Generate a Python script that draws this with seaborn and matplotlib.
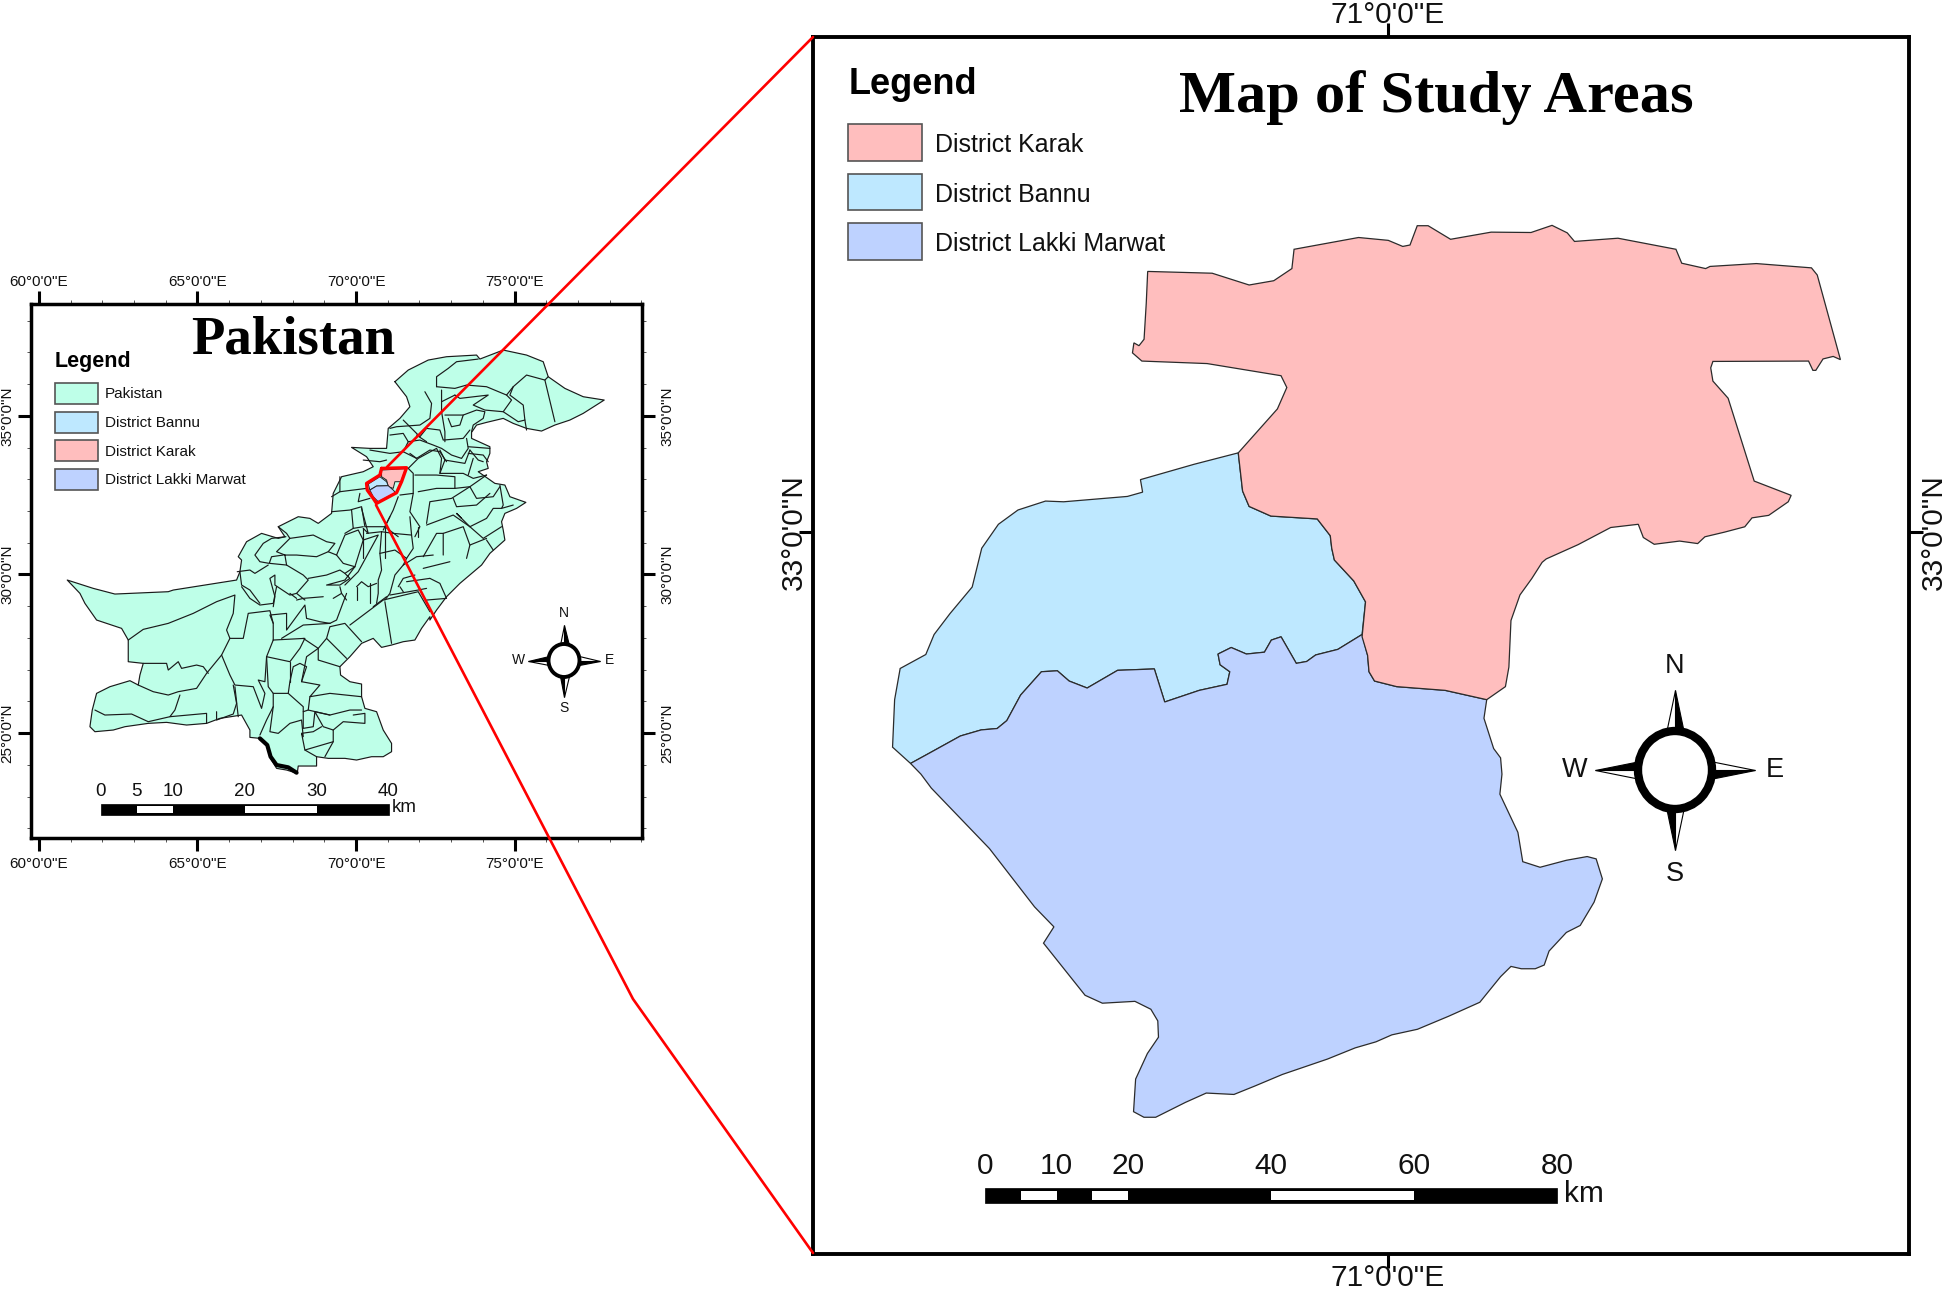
import numpy as np
import pandas as pd
import seaborn as sns
import matplotlib
matplotlib.use("Agg")
import matplotlib.pyplot as plt
from matplotlib.patches import Rectangle, Ellipse, Polygon
from matplotlib.ticker import FixedLocator
from matplotlib.transforms import ScaledTranslation

sns.set_theme(style="white")
plt.rcParams['font.family'] = ['Liberation Sans', 'DejaVu Sans']

W, H = 1946, 1290

# ---------- labels and colours ----------
pak_lon_ticks = [60, 65, 70, 75]
pak_lat_ticks = [25, 30, 35]
pak_lon_labels = ['60°0\'0"E', '65°0\'0"E', '70°0\'0"E', '75°0\'0"E']
pak_lat_labels = ['25°0\'0"N', '30°0\'0"N', '35°0\'0"N']
study_lon_ticks = [71]
study_lat_ticks = [33]
study_lon_labels = ['71°0\'0"E']
study_lat_labels = ['33°0\'0"N']
pak_legend = ["Pakistan", "District Bannu", "District Karak", "District Lakki Marwat"]
study_legend = ["District Karak", "District Bannu", "District Lakki Marwat"]
PAK, BANNU, KARAK, LAKKI = "#BEFFE8", "#BEE8FF", "#FFBEBE", "#BED2FF"
pak_scale_km = [0, 5, 10, 20, 30, 40]
pak_scale_white = [(5, 10), (20, 30)]
study_scale_km = [0, 10, 20, 40, 60, 80]
study_scale_white = [(5, 10), (15, 20), (40, 60)]

# ---------- Pakistan map outlines ----------
outline_g = [(75,110),(115,75),(175,45),(230,35),(320,30),(330,42),(400,15),(470,30),(520,50),(535,95),(585,130),
             (640,155),(703,165),(640,205),(600,225),(555,240),(515,258),(470,250),(430,235),(400,220),(350,232),
             (320,240),(305,262),(305,280),(360,305),(360,325),(350,350)]
outline_a1 = [(775,385),(745,395),(795,430),(825,435),(840,470),(888,487),(860,505),(825,520),(815,545),(820,570),
              (825,600),(780,640),(755,675),(690,730),(650,770),(620,810),(600,840)]
outline_b = [(1110,170),(1085,205),(1065,240),(1030,245),(995,255),(965,262),(940,235),(905,250),(870,290),(840,320),
             (842,345),(870,365),(905,372),(905,410),(915,445),(950,455),(970,510),(995,550),(995,575),(970,590),
             (935,590),(890,600),(855,595),(805,595),(770,590),(770,618),(715,618),(712,640),(680,630),(650,625),
             (635,600),(620,550),(600,535),(570,532),(570,510),(545,465),(480,475),(440,490),(380,495),(320,487),
             (265,490),(195,500),(160,510),(105,515),(90,500),(97,450),(110,400),(150,380),(210,362),(235,375),
             (240,345),(250,310),(205,305),(205,240),(185,205),(110,180),(75,130),(60,100),(22,60),(100,85),
             (165,102),(325,95),(340,90),(530,60),(540,35),(545,0)]
outline_a2 = [(25,650),(50,605),(95,580),(145,595),(165,590),(145,560),(205,530),(240,535),(265,550),(305,520),
              (310,460),(335,410),(400,395),(430,380),(410,350),(365,322),(420,325),(470,325),(475,265),(510,235),
              (540,200),(530,170)]

lines_e = [
 [(168,110),(125,115),(100,130),(75,165),(90,185),(118,190),(125,170),(160,165)],
 [(22,215),(60,210),(75,220),(115,195)],
 [(120,190),(170,195),(220,225),(235,240),(200,280),(180,285),(135,255),(135,225),(120,235),(135,290),(130,320),(90,310),(60,270),(35,255),(30,215)],
 [(170,195),(165,165),(140,155),(180,115),(250,105),(290,125),(315,130),(295,155),(260,170),(200,165),(165,165)],
 [(295,155),(320,165),(340,190),(375,200),(345,220),(330,210),(290,225),(235,235)],
 [(145,80),(170,100),(180,115)],
 [(320,165),(345,105),(385,90),(400,120),(375,200)],
 [(375,200),(345,240),(290,255),(330,255),(360,235),(345,220)],
 [(200,280),(225,300),(310,295),(335,280),(350,300),(325,330),(310,370)],
 [(330,260),(335,280)],
 [(225,300),(230,350),(270,365),(310,370)],
 [(225,310),(185,350),(120,350),(115,390)],
 [(130,320),(135,350)],
 [(135,340),(60,335),(50,390)],
 [(345,255),(385,215),(445,105),(400,120)],
 [(455,95),(450,160),(455,210),(445,240),(445,280),(440,310),(380,340),(350,370)],
 [(380,260),(395,245),(415,260),(440,250)],
 [(380,260),(380,300),(350,350),(340,375)],
 [(410,100),(455,95)],
 [(370,45),(370,85),(400,85),(415,100),(395,25)],
 [(360,30),(395,45)],
 [(450,160),(495,150),(530,175),(520,195),(495,225),(480,280),(465,300)],
 [(455,95),(490,100),(545,105),(550,145),(530,175)],
 [(520,195),(560,170),(610,165)],
 [(505,260),(520,235),(555,225)],
 [(480,285),(565,270),(590,265)],
 [(520,275),(510,260)],
 [(470,10),(480,50),(460,90)],
 [(530,20),(575,75),(610,65)],
 [(540,50),(545,105)],
 [(470,290),(430,320)],
 [(465,295),(475,390)],
]
lines_f = [
 [(100,90),(150,95),(170,90)],
 [(30,140),(30,185),(5,200)],
 [(30,185),(110,175)],
 [(90,190),(85,215),(120,205)],
 [(5,245),(60,240),(95,230),(105,290),(165,290),(190,240),(205,200)],
 [(65,240),(70,295),(100,290)],
 [(210,195),(250,190),(250,130),(235,115)],
 [(250,190),(240,245),(270,290),(255,320),(205,320),(165,290)],
 [(255,135),(320,135),(375,140),(375,175),(420,170),(470,135)],
 [(265,185),(320,175),(375,175)],
 [(290,280),(300,215),(365,205),(420,170),(440,205),(490,200),(510,170)],
 [(290,285),(370,255),(420,290),(460,325),(515,290)],
 [(370,205),(380,230),(440,225),(480,190)],
 [(510,165),(520,225),(515,235),(550,225)],
 [(420,290),(470,265),(490,235),(515,235)],
 [(395,265),(380,250),(420,290)],
 [(265,390),(280,380),(320,310),(340,310),(340,375)],
 [(265,290),(265,320),(245,370),(230,385)],
 [(340,310),(400,290),(420,345),(470,325)],
 [(420,345),(410,385)],
 [(470,330),(490,360)],
 [(100,295),(100,385)],
 [(165,295),(165,385)],
 [(45,310),(70,295)],
 [(45,310),(40,385)],
 [(235,115),(265,85),(320,55),(335,85),(330,130)],
 [(330,60),(345,90),(405,100),(420,60),(400,35),(345,65),(330,60)],
 [(345,90),(330,130),(400,130),(430,145),(470,135)],
 [(420,60),(445,90),(460,95)],
 [(430,85),(415,135)],
 [(240,5),(210,30),(210,60),(240,70),(240,40),(270,30)],
 [(240,70),(260,85)],
 [(300,10),(290,45),(320,55)],
 [(370,30),(380,10)],
 [(405,30),(455,60)],
]
lines_g = [
 [(200,125),(200,95),(235,70),(260,50),(325,42)],
 [(200,125),(255,130),(290,120),(350,125),(410,150),(430,125),(470,90),(525,105),(535,95)],
 [(410,150),(425,165),(400,200),(345,195),(310,180),(355,150),(270,160),(255,150)],
 [(430,125),(420,150),(460,180),(465,225),(445,230),(400,200)],
 [(465,225),(470,255)],
 [(525,105),(555,230)],
 [(165,140),(185,175),(180,220),(150,240),(80,245),(60,250)],
 [(215,135),(215,200),(225,260),(225,290)],
 [(225,210),(280,210),(320,195),(345,200),(340,220),(310,240),(305,260)],
 [(235,220),(245,245),(270,240),(280,210)],
 [(255,150),(215,170)],
 [(100,225),(125,250),(150,275),(170,250),(210,255),(220,285),(280,280),(300,255)],
 [(60,270),(100,265),(115,290),(150,285),(190,300),(215,310),(245,330),(275,340),(295,310),(290,280)],
 [(140,270),(170,290)],
 [(0,315),(60,325),(100,320),(115,290)],
 [(100,320),(140,340),(180,315),(210,320),(230,350),(270,345)],
 [(295,305),(360,310)],
 [(295,325),(340,330),(355,350)],
 [(300,340),(340,345)],
 [(230,350),(220,370)],
]
lines_b = [
 [(205,240),(250,208),(325,190),(400,160),(470,125),(525,105),(520,160),(500,210),(510,235),(550,235),(565,160),(630,152),(640,190),(640,240)],
 [(545,80),(570,115),(600,135),(640,130),(650,80),(625,50),(640,30),(650,10)],
 [(540,60),(575,30),(600,35),(620,0)],
 [(510,235),(485,285),(440,340),(410,385),(355,395),(325,405),(280,395),(235,375)],
 [(250,310),(320,310),(325,330),(355,305),(365,325),(410,315),(430,320),(445,340)],
 [(485,285),(510,345),(525,375),(580,380),(605,445),(615,400),(595,360),(615,365),(620,290),(640,240)],
 [(620,290),(690,305),(720,265),(735,235),(640,240)],
 [(620,290),(625,380),(640,400),(685,400),(690,365),(700,320),(720,310),(740,320),(725,365),(780,375),(750,410),(810,400),(905,410)],
 [(690,305),(690,365)],
 [(725,365),(740,290),(775,265),(730,235)],
 [(775,265),(775,300),(840,320)],
 [(775,265),(800,235),(860,295)],
 [(800,235),(810,200),(855,190),(905,245)],
 [(665,235),(730,195),(810,190)],
 [(870,195),(970,120),(1075,95),(1110,155)],
 [(975,125),(995,250)],
 [(640,190),(630,165),(680,160),(680,210),(735,135),(740,175),(780,185),(810,190)],
 [(710,120),(730,115),(790,110),(860,100),(830,180),(810,190)],
 [(625,50),(690,100),(745,70),(725,35),(680,15)],
 [(710,115),(690,100)],
 [(800,75),(850,40),(885,15),(830,40),(745,30)],
 [(860,100),(850,70),(890,75),(900,65),(930,70),(930,130)],
 [(965,5),(970,50),(985,105)],
 [(1020,5),(1000,80),(1020,100),(1075,90)],
 [(1040,65),(1110,55)],
 [(1020,100),(1030,60),(1090,25),(1170,5)],
 [(1100,120),(1160,115),(1140,70),(1110,55)],
 [(525,105),(540,60)],
 [(360,405),(345,450),(330,470),(440,460),(440,490)],
 [(105,450),(135,465),(215,462),(265,485),(330,470)],
 [(470,455),(470,480),(520,462),(530,430),(520,375)],
 [(525,380),(535,470)],
 [(640,400),(640,440),(620,480),(600,525)],
 [(640,440),(630,515),(655,520),(690,490),(725,480),(730,530),(725,520),(735,570),(770,590)],
 [(685,400),(730,440),(730,455),(745,450),(750,410)],
 [(730,455),(730,505),(760,500),(765,455),(790,500),(820,510),(820,545),(795,590)],
 [(745,450),(810,465),(870,450),(905,450)],
 [(765,455),(810,465)],
 [(820,510),(850,485),(915,490),(915,460),(880,465)],
 [(725,520),(760,515),(785,500)],
 [(735,570),(820,545)],
]
mangrove_coast = [(600,535),(622,555),(632,590),(650,615),(685,622),(710,638)]
inset_karak = [(455,390),(527,386),(513,425),(495,425),(490,445),(475,440),(470,420),(455,410)]
inset_bannu = [(415,432),(450,410),(470,425),(475,437),(440,438),(420,450)]
inset_lakki = [(420,450),(440,438),(475,437),(490,450),(497,458),(445,485),(430,470)]
inset_box = [(455,385),(530,383),(515,425),(500,458),(440,490),(430,475),(412,450),(410,430),(450,405),(455,385)]

# ---------- study area outlines ----------
karak_c1 = [(466,760),(555,765),(606,798),(640,786),(665,752),(668,698),(757,665),(798,673),(818,690),(828,686),
            (838,632),(853,632),(884,670),(940,650),(995,651),(1024,631),(1045,652),(1055,676),(1115,667),(1195,698),
            (1203,737),(1236,752),(1242,746),(1306,738),(1382,750),(1390,770),(1422,1007),(1412,998),(1398,1005),
            (1388,1037),(1384,1037),(1378,1011),(1246,1012),(1243,1030),(1246,1067),(1267,1115),(1303,1347),(1354,1387),
            (1350,1405),(1323,1443),(1300,1450),(1290,1475),(1262,1490),(1235,1503),(1225,1522),(1200,1515),(1165,1524),
            (1150,1505),(1143,1468),(1105,1477),(1060,1525),(1016,1565)]
karak_d = [(985,5),(970,40),(953,75),(940,130),(937,230),(932,272),(905,300),(845,280),(775,272),(743,260),(735,240),
           (733,205),(725,165),(730,90),(713,45),(685,0)]
karak_c2 = [(720,1535),(718,1500),(700,1453),(636,1445),(606,1418),(597,1375),(591,1268),(645,1145),(658,1085),
            (650,1052),(548,1018),(458,1011),(445,988),(447,960),(454,968),(461,950),(464,850)]
bannu_c = [(591,1268),(530,1300),(456,1343),(459,1378),(438,1390),(350,1405),(325,1403),(287,1428),(260,1468),
           (237,1535),(233,1568)]
bannu_d = [(162,58),(130,115),(107,160),(95,203),(58,233),(50,300),(47,402),(73,437),(100,415),(145,378),(175,365),
           (198,362),(212,345),(232,290),(262,240),(285,238),(302,260),(328,275),(372,237),(425,234),(440,305),(490,280),
           (530,267),(534,240),(520,225),(517,202),(536,188),(558,202),(584,198),(594,172),(608,165),(630,222),(645,218),
           (658,204),(690,192),(725,160),(730,90),(713,45),(685,0)]
bannu_c2 = [(720,1535),(718,1500),(700,1453),(636,1445),(606,1418),(597,1375)]
lakki_d = [(73,437),(100,415),(145,378),(175,365),(198,362),(212,345),(232,290),(262,240),(285,238),(302,260),(328,275),
           (372,237),(425,234),(440,305),(490,280),(530,267),(534,240),(520,225),(517,202),(536,188),(558,202),(584,198),
           (594,172),(608,165),(630,222),(645,218),(658,204),(690,192),(725,160),(733,205),(735,240),(743,260),(775,272),
           (845,280),(905,300),(901,340),(915,405),(925,425),(927,460),(924,503),(950,585),(957,648),(982,660),(1020,645),
           (1050,637),(1063,642),(1072,685),(1060,735),(1040,785),(1020,800),(995,840),(988,870),(975,878),(955,878),
           (940,873),(925,895),(895,950),(850,980),(805,1008),(768,1020),(745,1035),(715,1048),(675,1072),(610,1105),
           (570,1130),(540,1148),(500,1145),(470,1165),(427,1197),(410,1197),(395,1185),(398,1115),(415,1060),(431,1025),
           (430,990),(420,965),(397,948),(350,952),(325,935),(265,823),(280,788),(252,745),(187,620),(103,490),(88,460)]

# ---------- digitising crops -> figure pixels ----------
def crop(x0, y0, sx, sy):
    def f(p):
        p = np.array(p, float)
        return np.c_[x0 + p[:,0]/sx, y0 + p[:,1]/sy]
    return f
A = crop(230, 340, 3, 3)
B = crop(60, 560, 3, 3)
C = crop(810, 0, 1.380, 2.8)
D = crop(860, 560, 1.444, 2.148)
E = crop(230, 500, 3, 3)
F = crop(330, 430, 3, 3)
G = crop(370, 345, 3, 3)

# ---------- figure pixels -> geographic coordinates ----------
def pak_geo(px):
    return np.c_[60 + (px[:,0] - 39.0)/31.71, 35 - (px[:,1] - 415.7)/31.75]
def study_geo(px):
    return np.c_[71 + (px[:,0] - 1387.5)/668.0, 33 - (px[:,1] - 532.0)/668.0]

def make_axes(x0, y0, x1, y1, **kw):
    return fig.add_axes([x0/W, 1 - y1/H, (x1 - x0)/W, (y1 - y0)/H], **kw)

def shift(label, dx_px, dy_px):
    label.set_transform(label.get_transform() + ScaledTranslation(dx_px/100, dy_px/100, fig.dpi_scale_trans))

def runs(seg, drop):
    """Pieces of a boundary that are not already traced from a neighbouring crop."""
    out, cur = [], []
    for a, b in zip(seg[:-1], seg[1:]):
        if drop(*a) and drop(*b):
            if cur:
                out.append(np.array(cur)); cur = []
        else:
            if not cur:
                cur = [a]
            cur.append(b)
    if cur:
        out.append(np.array(cur))
    return out

fig = plt.figure(figsize=(W/100, H/100), dpi=100, facecolor="white")

# ---------- Pakistan axes ----------
ax = make_axes(31, 304, 642, 838)
ring = np.vstack([G(outline_g), A(outline_a1), B(outline_b), A(outline_a2), G(outline_g)[:1]])
outline = pak_geo(ring)
ax.fill(outline[:,0], outline[:,1], fc=PAK, ec="none", zorder=1)

segments = [ring]
for s in lines_e:
    segments += runs(E(s), lambda x, y: y > 597 or (x >= 330 and y < 530))
for s in lines_f:
    segments += runs(F(s), lambda x, y: (x < 430 and y > 530) or (x >= 370 and y < 455))
for s in lines_g:
    segments += runs(G(s), lambda x, y: y > 455)
for s in lines_b:
    segments += runs(B(s), lambda x, y: x < 430 and y < 597)
rows = []
for i, seg in enumerate(segments):
    g = pak_geo(seg)
    rows.append(pd.DataFrame({"lon": g[:,0], "lat": g[:,1], "line": i}))
sns.lineplot(data=pd.concat(rows), x="lon", y="lat", units="line", estimator=None, sort=False,
             color="#1a1a1a", lw=0.85, legend=False, ax=ax, zorder=2)
coast = pak_geo(B(mangrove_coast))
ax.plot(coast[:,0], coast[:,1], color="black", lw=3.0, zorder=3)
for poly, col in [(inset_karak, KARAK), (inset_bannu, BANNU), (inset_lakki, LAKKI)]:
    g = pak_geo(A(poly))
    ax.fill(g[:,0], g[:,1], fc=col, ec="#222222", lw=0.7, zorder=4)
g = pak_geo(A(inset_box))
ax.plot(g[:,0], g[:,1], color="#FF0000", lw=2.4, zorder=5)
ax.set_xlim(59.75, 79.02)
ax.set_ylim(21.70, 38.52)
ax.set_xlabel(""); ax.set_ylabel("")

ax.set_xticks(pak_lon_ticks, pak_lon_labels)
ax.set_yticks(pak_lat_ticks, pak_lat_labels, rotation=90, va="center")
ax.xaxis.set_minor_locator(FixedLocator(range(60, 80)))
ax.yaxis.set_minor_locator(FixedLocator(range(22, 39)))
ax.tick_params(which="major", length=9.5, width=2.2, color="black", labelsize=11, pad=4,
               top=True, bottom=True, left=True, right=True, labeltop=True, labelbottom=True,
               labelleft=True, labelright=True, labelcolor="#111111")
ax.tick_params(which="minor", length=3, width=0.7, color="#555555", top=True, bottom=True, left=True, right=True)
for s in ax.spines.values():
    s.set_linewidth(2.5); s.set_color("black"); s.set_visible(True)

# ---------- study area axes ----------
ax2 = make_axes(813, 37, 1909, 1254)
karak = study_geo(np.vstack([C(karak_c1), D(karak_d), C(karak_c2)]))
bannu = study_geo(np.vstack([C(bannu_c), D(bannu_d), C(bannu_c2), C(bannu_c)[:1]]))
lakki = study_geo(D(lakki_d))
for poly, col in [(bannu, BANNU), (lakki, LAKKI), (karak, KARAK)]:
    ax2.fill(poly[:,0], poly[:,1], fc=col, ec="#2b2b2b", lw=0.9, zorder=2)
ax2.set_xlim(71 + (813 - 1387.5)/668, 71 + (1909 - 1387.5)/668)
ax2.set_ylim(33 - (1254 - 532)/668, 33 - (37 - 532)/668)
ax2.set_xticks(study_lon_ticks, study_lon_labels)
ax2.set_yticks(study_lat_ticks, study_lat_labels, rotation=90, va="center")
ax2.tick_params(length=10, width=2.2, color="black", labelsize=21.5, pad=-2,
                top=True, bottom=True, left=True, right=True, labeltop=True, labelbottom=True,
                labelleft=True, labelright=True, labelcolor="#111111")
for s in ax2.spines.values():
    s.set_linewidth(2.8); s.set_color("black"); s.set_visible(True)

# tick labels that sit closer to the frame on one side only
for t in ax.xaxis.get_major_ticks():
    shift(t.label2, 0, -4)
for t in ax.yaxis.get_major_ticks():
    shift(t.label1, 2, 0)
for t in ax2.xaxis.get_major_ticks():
    shift(t.label2, 0, -3)
    shift(t.label1, 0, 1)
for t in ax2.yaxis.get_major_ticks():
    shift(t.label1, 6, 0)

# ---------- overlay in figure pixels: furniture and connectors ----------
ov = fig.add_axes([0, 0, 1, 1], facecolor="none", zorder=10)
ov.set_xlim(0, W); ov.set_ylim(H, 0); ov.axis("off")
ov.plot([813, 387], [37, 467], color="#FF0000", lw=1.9, solid_capstyle="round")
ov.plot([376, 633, 813], [505, 999, 1253], color="#FF0000", lw=1.9, solid_joinstyle="round")

serif = ['Liberation Serif', 'DejaVu Serif']
ov.text(293, 353, "Pakistan", family=serif, weight="bold", fontsize=39.5, ha="center", va="baseline", color="black")
ov.text(1436, 112, "Map of Study Areas", family=serif, weight="bold", fontsize=43.5, ha="center", va="baseline", color="black")

offset_y = {11: 1, 18: 3}

def legend(title, tx, ty, tsize, labels, colours, x0, x1, tops, h, lx, lsize):
    ov.text(tx, ty, title, weight="bold", fontsize=tsize, ha="left", va="center", color="black")
    for lab, col, top in zip(labels, colours, tops):
        ov.add_patch(Rectangle((x0, top), x1 - x0, h, fc=col, ec="#555555", lw=1.2))
        ov.text(lx, top + h/2 + offset_y[lsize], lab, fontsize=lsize, ha="left", va="center", color="#111111")

legend("Legend", 55, 361, 15.5, pak_legend, [PAK, BANNU, KARAK, LAKKI], 55, 97.6, [382.7, 411.7, 440, 469], 21, 105, 11)
legend("Legend", 849, 85, 26, study_legend, [KARAK, BANNU, LAKKI], 848, 921.5, [124, 173.6, 223], 36.5, 935, 18)

def scale_bar(km, white, x0, x1, y0, y1, inset, ly, size, kx, ky):
    u = (x1 - x0)/km[-1]
    ov.add_patch(Rectangle((x0, y0), x1 - x0, y1 - y0, fc="black", ec="black", lw=0.5))
    for a, b in white:
        ov.add_patch(Rectangle((x0 + a*u, y0 + inset), (b - a)*u, y1 - y0 - 2*inset, fc="white", ec="none"))
    for k in km:
        ov.text(x0 + k*u, ly, str(k), fontsize=size, ha="center", va="center", color="#111111")
    ov.text(kx, ky, "km", fontsize=size, ha="left", va="center", color="#111111")

scale_bar(pak_scale_km, pak_scale_white, 101, 388.5, 804, 815, 2, 791, 13.5, 392, 807)
scale_bar(study_scale_km, study_scale_white, 985, 1557, 1187.5, 1203.4, 3, 1166, 21.5, 1564, 1194)

def compass(cx, cy, rx, ry, lw, tip, thalf, lab, size):
    for dx, dy, txt in [(0, -1, "N"), (1, 0, "E"), (0, 1, "S"), (-1, 0, "W")]:
        base = (rx if dx else ry) - lw*0.3
        px, py = -dy, dx
        t = (cx + dx*tip[0 if dx else 1], cy + dy*tip[0 if dx else 1])
        b = (cx + dx*base, cy + dy*base)
        s1 = (b[0] + px*thalf, b[1] + py*thalf)
        s2 = (b[0] - px*thalf, b[1] - py*thalf)
        ov.add_patch(Polygon([t, b, s1], closed=True, fc="black", ec="black", lw=0.8))
        ov.add_patch(Polygon([t, b, s2], closed=True, fc="white", ec="black", lw=0.8))
        ov.text(cx + dx*lab[0], cy + dy*lab[1], txt, fontsize=size, ha="center", va="center", color="#111111")
    ov.add_patch(Ellipse((cx, cy), 2*rx, 2*ry, fc="white", ec="black", lw=lw))

compass(1675, 770, 37, 39, 6.0, (80, 80), 9, (100, 104), 19.5)
compass(564, 660.5, 15.5, 16.5, 2.8, (36, 36), 4.5, (46, 47.5), 10)

fig.savefig("out.png", dpi=100, facecolor="white")
